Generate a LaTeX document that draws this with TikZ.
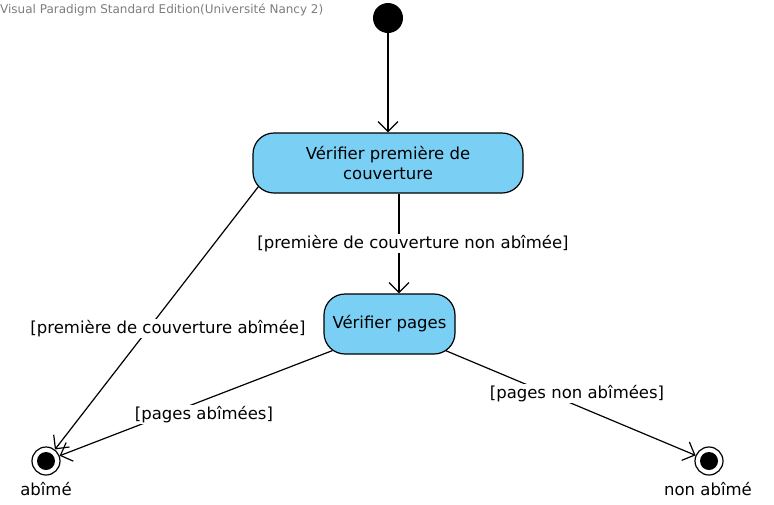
\documentclass[tikz,border=0pt]{standalone}
\usepackage{fontspec}
\setmainfont{DejaVu Sans}
\usetikzlibrary{arrows.meta}
\definecolor{skyblue1}{RGB}{122,207,245}
\definecolor{gray1}{RGB}{125,125,125}
\def\lw{1.2pt}

\begin{document}
\begin{tikzpicture}[x=1pt, y=-1pt, >={Straight Barb[length=10pt,width=20pt]},
				state/.style={draw=black,line width=\lw,fill=skyblue1,rounded corners=21pt,
					minimum height=60pt,align=center,inner sep=0pt,font=\fontsize{16.5}{20.5}\selectfont},
				final/.style={circle,draw=black,line width=\lw,minimum size=28pt,inner sep=0pt},
				trans/.style={->,line width=\lw},
				guard/.style={fill=white,inner sep=1pt,font=\fontsize{16.5}{19}\selectfont},
				tag/.style={inner sep=0pt,font=\fontsize{16.5}{19}\selectfont}]

	\useasboundingbox (0,0) rectangle (774,504);

	% Header
	\node[anchor=west,inner sep=0pt,text=gray1,font=\fontsize{12}{14}\selectfont] (hdr) at (0,10)
		{Visual Paradigm Standard Edition(Université Nancy 2)};

	% States
	\node[circle,fill=black,minimum size=30pt,inner sep=0pt] (init) at (388,18) {};
	\node[state,minimum width=270pt] (v1) at (388,163) {Vérifier première de\\couverture};
	\node[state,minimum width=131pt] (v2) at (389.5,324) {Vérifier pages};
	\node[final] (abime) at (46,461) {};
	\fill (abime.center) circle (9pt);
	\node[final] (nonabime) at (709,461) {};
	\fill (nonabime.center) circle (9pt);
	\node[tag] (abimelbl) at (46,489) {abîmé};
	\node[tag] (nonabimelbl) at (708,489) {non abîmé};

	% Transitions
	\coordinate (col) at (399,0);
	\draw[trans] (init) -- (v1);
	\draw[trans] (v1.south -| col) -- (v2.north -| col);
	\draw[trans] ([shift={(6,-7)}]v1.south west) -- (abime);
	\draw[trans] ([shift={(9,-4)}]v2.south west) -- (abime);
	\draw[trans] ([shift={(-10,-4)}]v2.south east) -- (nonabime);

	% Guards
	\node[guard] (g1) at (413,243.5) {[première de couverture non abîmée]};
	\node[guard] (g2) at (168,328.5) {[première de couverture abîmée]};
	\node[guard] (g3) at (204,414.5) {[pages abîmées]};
	\node[guard] (g4) at (577,393.5) {[pages non abîmées]};

\end{tikzpicture}
\end{document}
